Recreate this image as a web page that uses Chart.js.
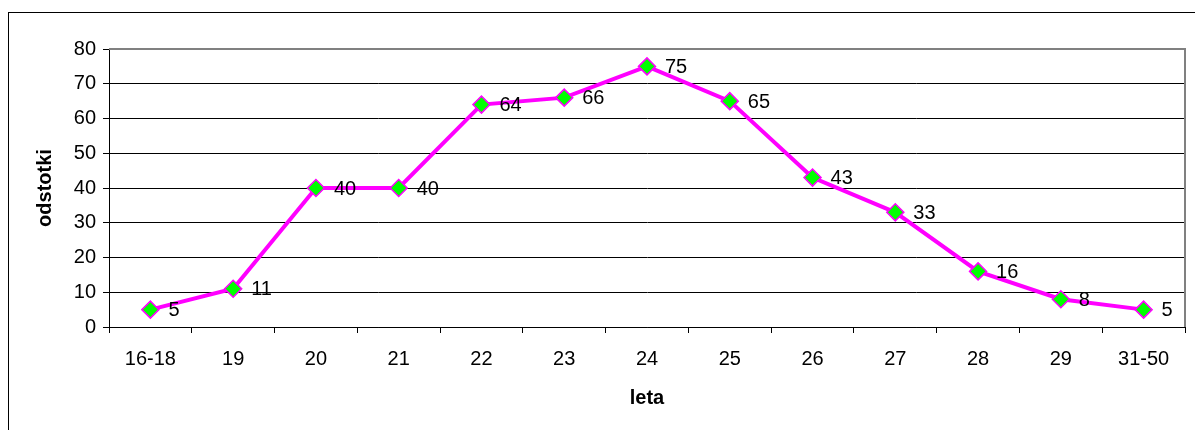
<!DOCTYPE html>
<html>
<head>
<meta charset="utf-8">
<script src="https://cdn.jsdelivr.net/npm/chart.js@4/dist/chart.umd.min.js"></script>
<style>
  html, body { margin: 0; padding: 0; background: #fff; overflow: hidden; }
  #wrap { position: relative; width: 1195px; height: 430px; }
  #frame { position: absolute; left: 8px; top: 12px; width: 1300px; height: 500px; border: 1px solid #000; box-sizing: border-box; }
  canvas { position: absolute; left: 0; top: 0; }
</style>
</head>
<body>
<div id="wrap">
  <div id="frame"></div>
  <canvas id="c" width="1195" height="430"></canvas>
</div>
<script>
// Age groups (leta) and share in percent (odstotki)
const categories = ['16-18', '19', '20', '21', '22', '23', '24', '25', '26', '27', '28', '29', '31-50'];
const values = [5, 11, 40, 40, 64, 66, 75, 65, 43, 33, 16, 8, 5];
const yTicks = [0, 10, 20, 30, 40, 50, 60, 70, 80];

const FONT = 'Liberation Sans, Arial, sans-serif';
const SIZE = 20;

// Value labels printed to the right of each point
const valueLabels = {
  id: 'valueLabels',
  afterDatasetsDraw(chart) {
    const ctx = chart.ctx;
    const meta = chart.getDatasetMeta(0);
    ctx.save();
    ctx.font = SIZE + 'px ' + FONT;
    ctx.fillStyle = '#000';
    ctx.textAlign = 'left';
    ctx.textBaseline = 'middle';
    meta.data.forEach((pt, i) => {
      ctx.fillText(String(values[i]), pt.x + 18, pt.y + 1);
    });
    ctx.restore();
  }
};

// Grey frame on the top and right of the plot area
const plotFrame = {
  id: 'plotFrame',
  beforeDatasetsDraw(chart) {
    const a = chart.chartArea;
    const ctx = chart.ctx;
    ctx.save();
    ctx.strokeStyle = '#808080';
    ctx.lineWidth = 2;
    ctx.beginPath();
    ctx.moveTo(a.left, a.top);
    ctx.lineTo(a.right, a.top);
    ctx.lineTo(a.right, a.bottom);
    ctx.stroke();
    ctx.restore();
  }
};

new Chart(document.getElementById('c'), {
  type: 'line',
  data: {
    labels: categories,
    datasets: [{
      data: values,
      borderColor: '#ff00ff',
      borderWidth: 4,
      tension: 0,
      pointStyle: 'rectRot',
      pointRadius: 8.5,
      pointBackgroundColor: '#00ff00',
      pointBorderColor: '#ff00ff',
      pointBorderWidth: 1.5
    }]
  },
  options: {
    responsive: false,
    animation: false,
    layout: { padding: { left: 0, top: 49, right: 6, bottom: 0 } },
    plugins: {
      legend: { display: false },
      tooltip: { enabled: false }
    },
    scales: {
      x: {
        type: 'category',
        offset: true,
        afterFit(s) { s.height = 103; },
        border: { display: true, color: '#000', width: 1 },
        grid: { offset: true, drawOnChartArea: false, drawTicks: true, tickLength: 6, color: '#000' },
        ticks: { color: '#000', font: { family: FONT, size: SIZE }, padding: 14, maxRotation: 0, autoSkip: false },
        title: {
          display: true, text: 'leta', color: '#000',
          font: { family: FONT, size: SIZE, weight: 'bold' },
          padding: { top: 0, bottom: 20 }
        }
      },
      y: {
        min: 0, max: 80,
        afterFit(s) { s.width = 109; },
        afterBuildTicks(s) { s.ticks = yTicks.map(v => ({ value: v })); },
        border: { display: true, color: '#000', width: 1 },
        grid: { color: '#000', lineWidth: 1, tickLength: 6, drawTicks: true },
        ticks: { color: '#000', font: { family: FONT, size: SIZE }, padding: 7 },
        title: {
          display: true, text: 'odstotki', color: '#000',
          font: { family: FONT, size: SIZE, weight: 'bold' },
          padding: { top: 33, bottom: 0 }
        }
      }
    }
  },
  plugins: [plotFrame, valueLabels]
});
</script>
</body>
</html>
